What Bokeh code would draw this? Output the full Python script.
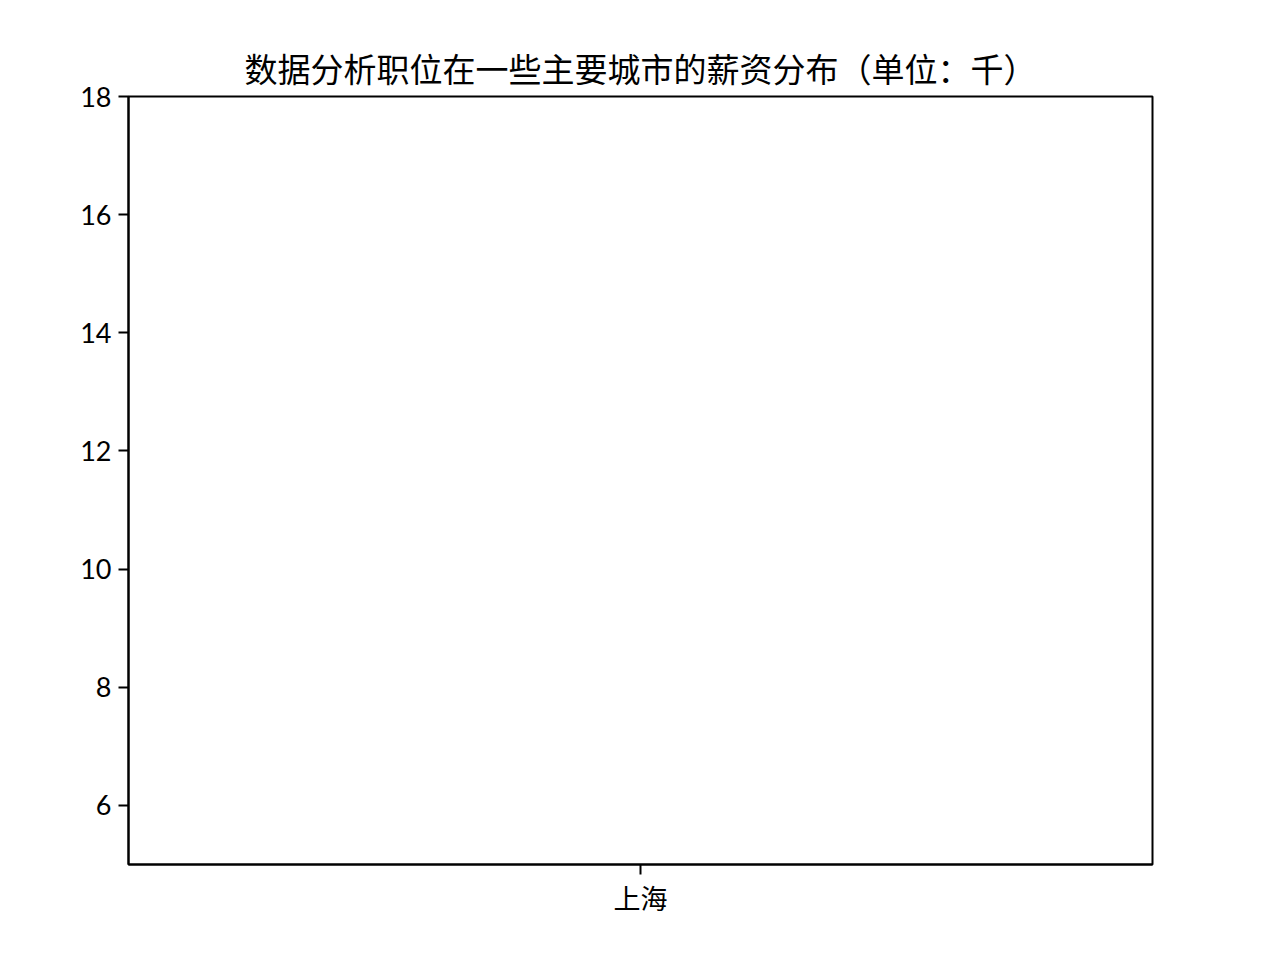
from bokeh.plotting import figure
from bokeh.models import FactorRange, Range1d, FixedTicker, ColumnDataSource
from bokeh.embed import file_html
from bokeh.resources import INLINE

# Data (the reference shows an empty boxplot for the single city)
cities = ["上海"]
salary_q1 = []
salary_q3 = []
box_city = []
y_ticks = [6, 8, 10, 12, 14, 16, 18]
y_min, y_max = 5, 18

p = figure(
    width=1280, height=960,
    x_range=FactorRange(*cities),
    y_range=Range1d(y_min, y_max),
    output_backend="svg", toolbar_location=None,
    min_border_left=128, min_border_right=128,
    min_border_top=96, min_border_bottom=96,
)

src = ColumnDataSource(dict(city=box_city, q1=salary_q1, q3=salary_q3))
p.vbar(x="city", top="q3", bottom="q1", width=0.5, source=src,
       fill_color=None, line_color="black")

p.title.text = "数据分析职位在一些主要城市的薪资分布（单位：千）"
p.title.align = "center"
p.title.text_font = "Noto Sans CJK SC"
p.title.text_font_size = "33px"
p.title.text_font_style = "normal"
p.title.text_color = "black"
p.title.standoff = 10

p.xgrid.visible = False
p.ygrid.visible = False
p.background_fill_color = "white"
p.border_fill_color = "white"
p.outline_line_color = "black"
p.outline_line_width = 2
p.outline_line_alpha = 1

for ax in (p.xaxis[0], p.yaxis[0]):
    ax.axis_line_color = "black"
    ax.axis_line_width = 2
    ax.major_tick_line_color = "black"
    ax.major_tick_line_width = 2
    ax.major_tick_out = 10
    ax.major_tick_in = 0
    ax.minor_tick_line_color = None
    ax.major_label_text_color = "black"
    ax.major_label_text_font_size = "27px"

p.yaxis.ticker = FixedTicker(ticks=y_ticks)
p.yaxis.major_label_text_font = "Lato"
p.yaxis.major_label_standoff = 7
p.xaxis.major_label_text_font = "Noto Sans CJK SC"
p.xaxis.major_label_standoff = 3

open("out.html", "w").write(file_html(p, INLINE))
